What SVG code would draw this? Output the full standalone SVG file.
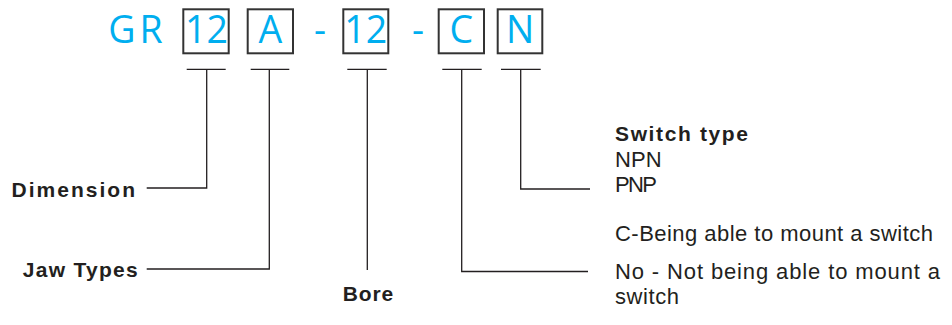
<svg xmlns="http://www.w3.org/2000/svg" width="952" height="325" viewBox="0 0 952 325">
<style>
.code{font-family:"Open Sans","Noto Sans",sans-serif;font-size:37.5px;fill:#00aeef;text-anchor:middle}
.box{fill:none;stroke:#333333;stroke-width:2}
.lbl{font-family:"Liberation Sans",Arial,sans-serif;font-size:21px;font-weight:bold;fill:#231f20}
.txt{font-family:"Liberation Sans",Arial,sans-serif;font-size:22px;fill:#231f20}
.ln{fill:none;stroke:#231f20;stroke-width:1.3}
</style>
<rect width="952" height="325" fill="#ffffff"/>
<g id="code">
<text class="code" x="137.5" y="43.3" letter-spacing="4">GR</text>
<g id="box-dim"><rect class="box" x="183.3" y="9.3" width="45.4" height="44"/><text class="code" x="206.5" y="43.3">12</text></g>
<g id="box-jaw"><rect class="box" x="247.7" y="9.3" width="45.3" height="44"/><text class="code" x="270.3" y="43.3">A</text></g>
<text class="code" x="320" y="43.3">-</text>
<g id="box-bore"><rect class="box" x="343.3" y="9.3" width="45" height="44"/><text class="code" x="365.8" y="43.3">12</text></g>
<text class="code" x="418" y="43.3">-</text>
<g id="box-c"><rect class="box" x="438.7" y="9.3" width="45.3" height="44"/><text class="code" x="461.3" y="43.3">C</text></g>
<g id="box-n"><rect class="box" x="497.7" y="9.3" width="44.6" height="44"/><text class="code" x="520" y="43.3">N</text></g>
</g>
<g id="connectors">
<path class="ln" d="M186.7 69.3H225.7M206.7 69.3V188H146.7"/>
<path class="ln" d="M250.7 69.3H289.3M269.3 69.3V269H146.7"/>
<path class="ln" d="M347.3 69.3H386.7M367.3 69.3V270"/>
<path class="ln" d="M442.3 69.3H481.7M461.7 69.3V271.5H588"/>
<path class="ln" d="M501 69.3H540.7M520.7 69.3V189H590"/>
</g>
<g id="dimension"><text class="lbl" x="11.5" y="196.7" textLength="123.5">Dimension</text></g>
<g id="jaw"><text class="lbl" x="22.7" y="277.3" textLength="115">Jaw Types</text></g>
<g id="bore"><text class="lbl" x="342.7" y="300.7" textLength="50.6">Bore</text></g>
<g id="switch">
<text class="lbl" x="615" y="140.7" textLength="133">Switch type</text>
<text class="txt" x="615" y="166.7" textLength="46.7">NPN</text>
<text class="txt" x="615" y="191.7" textLength="42">PNP</text>
</g>
<g id="mount">
<text class="txt" x="615" y="241" textLength="318">C-Being able to mount a switch</text>
<text class="txt" x="615" y="279.3" textLength="325">No - Not being able to mount a</text>
<text class="txt" x="615" y="304.3" textLength="64">switch</text>
</g>
</svg>
